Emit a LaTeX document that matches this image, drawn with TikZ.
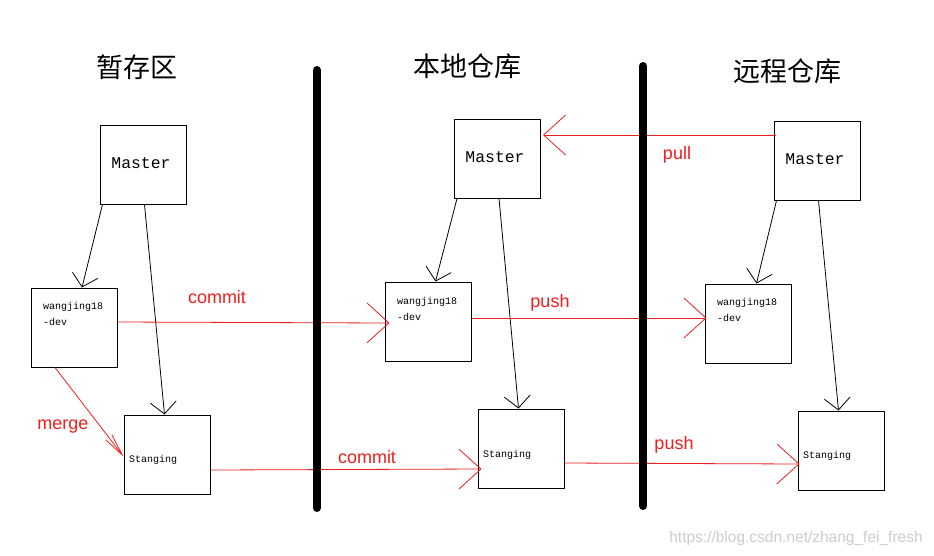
\documentclass[tikz,border=0pt]{standalone}
\usepackage{fontspec}
\setmainfont{Liberation Sans}
\newfontfamily\cjk{Noto Sans CJK SC}
\newfontfamily\monof{Liberation Mono}
\usetikzlibrary{arrows.meta}
\definecolor{redline}{RGB}{240,30,30}
\definecolor{wmgray}{RGB}{205,205,205}
\begin{document}
\begin{tikzpicture}[x=1pt,y=-1pt,
  box/.style={draw,line width=1pt,minimum width=86pt,minimum height=79pt,inner sep=0pt},
  title/.style={font=\cjk\fontsize{27}{30}\selectfont},
  bigmono/.style={font=\monof\fontsize{16.4}{18}\selectfont,inner sep=0pt},
  smallmono/.style={font=\monof\fontsize{10}{15}\selectfont,inner sep=0pt,anchor=west},
  lbl/.style={font=\fontsize{18}{20}\selectfont,text=redline,inner sep=0pt},
  blk/.style={line width=0.8pt,-{Straight Barb[length=12pt,width=26pt,line width=0.8pt]}},
  red/.style={line width=0.8pt,draw=redline,-{Straight Barb[length=22pt,width=40pt,line width=0.8pt]}},
  bar/.style={line width=8pt,line cap=round}]
\useasboundingbox[fill=white] (0,0) rectangle (934,555);

% titles
\node[title] (t1) at (137,67) {暂存区};
\node[title] (t2) at (467,66) {本地仓库};
\node[title] (t3) at (787,71) {远程仓库};

% boxes
\node[box] (m1) at (143,164.5) {};
\node[box] (d1) at (74.5,327.5) {};
\node[box] (s1) at (167,454.5) {};
\node[box] (m2) at (497.5,158.5) {};
\node[box] (d2) at (428,321.5) {};
\node[box] (s2) at (521,448.5) {};
\node[box] (m3) at (817,160.5) {};
\node[box] (d3) at (748,323.5) {};
\node[box] (s3) at (841,450.5) {};

% box texts
\node[bigmono] (m1t) at (141,163) {Master};
\node[bigmono] (m2t) at (495,157) {Master};
\node[bigmono] (m3t) at (815,159) {Master};
\node[smallmono] (d1a) at (43,307) {wangjing18};
\node[smallmono] (d1b) at (43,322) {-dev};
\node[smallmono] (d2a) at (397,302) {wangjing18};
\node[smallmono] (d2b) at (397,317) {-dev};
\node[smallmono] (d3a) at (717,303) {wangjing18};
\node[smallmono] (d3b) at (717,318) {-dev};
\node[smallmono] (s1t) at (129,460) {Stanging};
\node[smallmono] (s2t) at (483,455) {Stanging};
\node[smallmono] (s3t) at (803,456) {Stanging};

% black arrows
\draw[blk] ([xshift=3pt]m1.south west) -- ([xshift=51pt]d1.north west);
\draw[blk] ([xshift=45pt]m1.south west) -- ([xshift=41pt]s1.north west);
\draw[blk] ([xshift=3pt]m2.south west) -- ([xshift=51pt]d2.north west);
\draw[blk] ([xshift=45pt]m2.south west) -- ([xshift=41pt]s2.north west);
\draw[blk] ([xshift=3pt]m3.south west) -- ([xshift=52pt]d3.north west);
\draw[blk] ([xshift=45pt]m3.south west) -- ([xshift=41pt]s3.north west);

% red arrows
\draw[red] ([yshift=5.5pt]d1.east) -- ([xshift=5pt,yshift=-1.5pt]d2.west);
\draw[red] ([yshift=-15.5pt]s1.east) -- ([xshift=4pt,yshift=-20.5pt]s2.west);
\draw[red] ([yshift=3.5pt]d2.east) -- ([xshift=2pt,yshift=5.5pt]d3.west);
\draw[red] ([yshift=-14.5pt]s2.east) -- ([xshift=2pt,yshift=-13.5pt]s3.west);
\draw[red] ([xshift=2pt,yshift=25.5pt]m3.west) -- ([xshift=2pt,yshift=23.5pt]m2.east);
\draw[red,-{Straight Barb[length=22pt,width=8pt,line width=0.8pt]}] ([xshift=24pt]d1.south west) -- ([yshift=-2pt]s1.west);

% bars (drawn over the red lines)
\coordinate (b1top) at (317,70); \coordinate (b1bot) at (317,508);
\coordinate (b2top) at (643,66); \coordinate (b2bot) at (643,506);
\draw[bar] (b1top) -- (b1bot);
\draw[bar] (b2top) -- (b2bot);

% labels
\node[lbl] (c1) at (217,297) {commit};
\node[lbl] (c2) at (367,457) {commit};
\node[lbl] (p1) at (550,303) {push};
\node[lbl] (p2) at (674,445) {push};
\node[lbl] (pl) at (677,155) {pull};
\node[lbl] (mg) at (63,427) {merge};

% watermark
\node[font=\fontsize{15.5}{17}\selectfont,text=wmgray,inner sep=0pt] (wm) at (796,538) {https://blog.csdn.net/zhang\_fei\_fresh};
\end{tikzpicture}
\end{document}
